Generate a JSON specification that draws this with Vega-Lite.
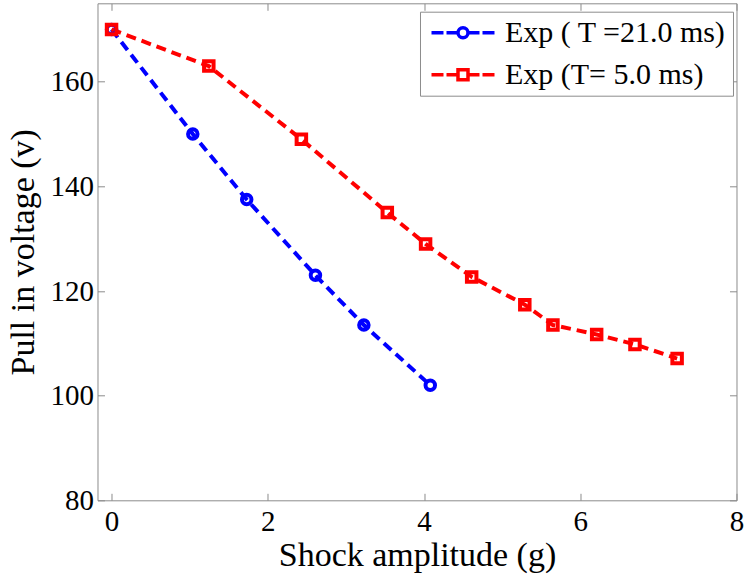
{
  "$schema": "https://vega.github.io/schema/vega-lite/v6.json",
  "autosize": "none",
  "width": 639,
  "height": 497,
  "padding": {"left": 97.5, "top": 3.3, "right": 13.3, "bottom": 81.7},
  "background": "white",
  "config": {
    "view": {"stroke": null},
    "font": "Liberation Serif",
    "axis": {
      "grid": false,
      "domainColor": "#8c8c8c",
      "tickColor": "#8c8c8c",
      "domainWidth": 1,
      "tickWidth": 1,
      "tickSize": -7,
      "labelFont": "Liberation Serif",
      "labelFontSize": 29,
      "labelColor": "black",
      "labelFlush": false,
      "labelOverlap": false,
      "labelBound": false,
      "titleFont": "Liberation Serif",
      "titleFontSize": 34,
      "titleFontWeight": "normal",
      "titleColor": "black"
    }
  },
  "data": {
    "values": [
      {"series": "Exp ( T =21.0 ms)", "g": 0, "v": 170},
      {"series": "Exp ( T =21.0 ms)", "g": 1.04, "v": 150},
      {"series": "Exp ( T =21.0 ms)", "g": 1.73, "v": 137.5},
      {"series": "Exp ( T =21.0 ms)", "g": 2.61, "v": 123},
      {"series": "Exp ( T =21.0 ms)", "g": 3.23, "v": 113.5},
      {"series": "Exp ( T =21.0 ms)", "g": 4.08, "v": 102},
      {"series": "Exp (T= 5.0 ms)", "g": 0, "v": 170},
      {"series": "Exp (T= 5.0 ms)", "g": 1.245, "v": 163},
      {"series": "Exp (T= 5.0 ms)", "g": 2.43, "v": 149},
      {"series": "Exp (T= 5.0 ms)", "g": 3.53, "v": 135},
      {"series": "Exp (T= 5.0 ms)", "g": 4.02, "v": 129},
      {"series": "Exp (T= 5.0 ms)", "g": 4.61, "v": 122.7},
      {"series": "Exp (T= 5.0 ms)", "g": 5.29, "v": 117.4},
      {"series": "Exp (T= 5.0 ms)", "g": 5.65, "v": 113.5},
      {"series": "Exp (T= 5.0 ms)", "g": 6.21, "v": 111.7},
      {"series": "Exp (T= 5.0 ms)", "g": 6.70, "v": 109.8},
      {"series": "Exp (T= 5.0 ms)", "g": 7.24, "v": 107.1}
    ]
  },
  "layer": [
    {
      "encoding": {
        "x": {"field": "g", "type": "quantitative", "scale": {"domain": [-0.18, 8], "nice": false, "zero": false},
              "axis": {"title": "Shock amplitude (g)", "values": [0, 2, 4, 6, 8], "format": "d", "labelPadding": 14, "titlePadding": 2,
                       "labelFont": "Liberation Serif", "titleFont": "Liberation Serif", "labelFontSize": 29, "titleFontSize": 34}},
        "y": {"field": "v", "type": "quantitative", "scale": {"domain": [80, 175], "nice": false, "zero": false},
              "axis": {"title": "Pull in voltage (v)", "values": [80, 100, 120, 140, 160], "format": "d", "labelPadding": 11, "titlePadding": 9,
                       "labelFont": "Liberation Serif", "titleFont": "Liberation Serif", "labelFontSize": 29, "titleFontSize": 34}},
        "color": {
          "field": "series", "type": "nominal",
          "scale": {"domain": ["Exp ( T =21.0 ms)", "Exp (T= 5.0 ms)"], "range": ["#0000ff", "#ff0000"]},
          "legend": {
            "orient": "none", "legendX": 322.5, "legendY": 8.4, "title": null,
            "strokeColor": "#8c8c8c", "fillColor": "white", "padding": 6,
            "labelFont": "Liberation Serif", "labelFontSize": 30, "labelColor": "black", "labelLimit": 0,
            "symbolSize": 100, "symbolStrokeWidth": 3.5, "symbolFillColor": "transparent",
            "symbolOffset": 22, "labelOffset": 27, "rowPadding": 12,
            "encode": {
              "symbols": {
                "update": {
                  "shape": [
                    {"test": "datum.value === 'Exp ( T =21.0 ms)'", "value": "M-6.3,0H-3.9M-3.3,0H-1M-1,0A1,1 0 1,1 1,0A1,1 0 1,1 -1,0M1,0H3.3M3.9,0H6.3"},
                    {"value": "M-6.3,0H-3.9M-3.3,0H-1M-1,-1H1V1H-1ZM1,0H3.3M3.9,0H6.3"}
                  ],
                  "strokeDash": {"value": []},
                  "fill": {"value": "transparent"}
                }
              }
            }
          }
        }
      },
      "layer": [
        {"mark": {"type": "line", "strokeWidth": 4, "strokeDash": [10, 6]}},
        {
          "mark": {"type": "point", "filled": false, "strokeWidth": 4, "size": 90, "opacity": 1},
          "encoding": {
            "shape": {"condition": {"test": "datum.series === 'Exp ( T =21.0 ms)'", "value": "circle"}, "value": "square"}
          }
        }
      ]
    },
    {
      "mark": {"type": "point", "opacity": 0},
      "encoding": {
        "x": {"field": "g", "type": "quantitative",
              "axis": {"orient": "top", "title": null, "labels": false, "values": [0, 2, 4, 6, 8]}},
        "y": {"field": "v", "type": "quantitative",
              "axis": {"orient": "right", "title": null, "labels": false, "values": [80, 100, 120, 140, 160]}}
      }
    }
  ],
  "resolve": {"axis": {"x": "independent", "y": "independent"}}
}
